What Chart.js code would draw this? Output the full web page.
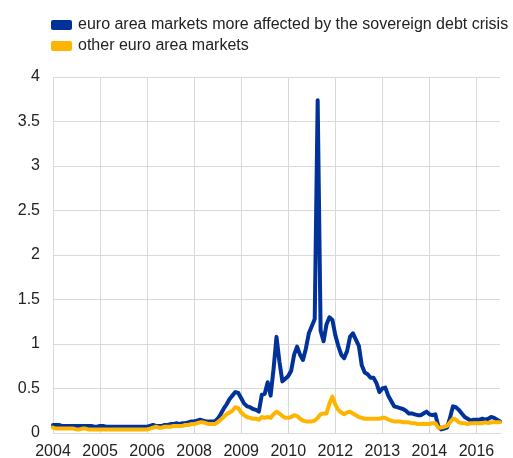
<!DOCTYPE html>
<html><head><meta charset="utf-8">
<script src="https://cdn.jsdelivr.net/npm/chart.js@4/dist/chart.umd.min.js"></script>
<style>html,body{margin:0;padding:0;background:#fff;}</style>
</head><body>
<canvas id="c" width="513" height="458"></canvas>
<script>
// Monthly observations, January 2004 onwards
const firstYear = 2004;
const nMonths = 153;
const categories = [];
for (let i = 0; i < nMonths; i++) {
  const y = firstYear + Math.floor(i / 12), m = (i % 12) + 1;
  categories.push(y + '-' + String(m).padStart(2, '0'));
}
const seriesNames = ['euro area markets more affected by the sovereign debt crisis', 'other euro area markets'];
const stressed = [
  0.09,0.09,0.09,0.08,0.08,0.08,0.08,0.08,0.08,0.08,0.08,0.08,0.08,0.08,0.07,0.07,
  0.08,0.08,0.07,0.07,0.07,0.07,0.07,0.07,0.07,0.07,0.07,0.07,0.07,0.07,0.07,0.07,
  0.07,0.08,0.09,0.08,0.08,0.08,0.09,0.09,0.10,0.10,0.11,0.10,0.11,0.11,0.12,0.13,
  0.13,0.14,0.15,0.14,0.13,0.13,0.13,0.13,0.16,0.21,0.27,0.32,0.38,0.42,0.46,0.45,
  0.39,0.33,0.30,0.29,0.27,0.26,0.24,0.43,0.44,0.57,0.42,0.72,1.08,0.80,0.58,0.61,
  0.64,0.70,0.88,0.97,0.88,0.82,0.95,1.12,1.20,1.28,3.74,1.15,1.03,1.22,1.30,1.27,
  1.10,0.98,0.88,0.84,0.92,1.08,1.12,1.05,0.98,0.76,0.68,0.66,0.62,0.62,0.56,0.46,
  0.50,0.51,0.42,0.36,0.30,0.29,0.28,0.27,0.25,0.22,0.22,0.21,0.20,0.20,0.22,0.24,
  0.21,0.20,0.21,0.08,0.04,0.05,0.06,0.17,0.30,0.29,0.26,0.22,0.18,0.16,0.14,0.15,
  0.15,0.15,0.16,0.15,0.16,0.18,0.17,0.15,0.13
];
const others = [
  0.06,0.05,0.05,0.05,0.05,0.05,0.05,0.05,0.04,0.04,0.05,0.05,0.04,0.04,0.04,0.04,
  0.04,0.04,0.04,0.04,0.04,0.04,0.04,0.04,0.04,0.04,0.04,0.04,0.04,0.04,0.04,0.04,
  0.04,0.05,0.06,0.07,0.06,0.06,0.07,0.07,0.07,0.08,0.08,0.08,0.08,0.09,0.09,0.10,
  0.10,0.11,0.12,0.12,0.11,0.10,0.10,0.10,0.12,0.15,0.18,0.21,0.23,0.25,0.29,0.28,
  0.23,0.20,0.18,0.17,0.16,0.16,0.15,0.18,0.17,0.18,0.17,0.21,0.24,0.22,0.19,0.17,
  0.17,0.18,0.20,0.19,0.16,0.14,0.13,0.13,0.13,0.14,0.17,0.21,0.22,0.22,0.33,0.41,
  0.32,0.26,0.23,0.21,0.23,0.24,0.22,0.20,0.18,0.17,0.16,0.16,0.16,0.16,0.16,0.16,
  0.17,0.17,0.15,0.14,0.13,0.13,0.13,0.12,0.12,0.12,0.11,0.11,0.10,0.10,0.10,0.10,
  0.10,0.11,0.11,0.06,0.06,0.07,0.08,0.12,0.16,0.15,0.12,0.11,0.11,0.10,0.11,0.11,
  0.11,0.11,0.11,0.12,0.11,0.12,0.12,0.12,0.12
];
const labelEvery = 16;
const yTicks = [0, 0.5, 1, 1.5, 2, 2.5, 3, 3.5, 4];

const FONT = '"Liberation Sans", Arial, Helvetica, sans-serif';
const TEXT = '#222222';
const GRID = '#d9d9d9';

// keep the legend block a fixed height and indent it to the plot's left edge
const legendPlacer = {
  id: 'legendPlacer',
  beforeLayout(chart) {
    const lg = chart.legend;
    if (lg && !lg._wrapped) {
      const orig = lg.fit;
      lg.fit = function () { orig.call(this); this.height = 65; };
      lg._wrapped = true;
    }
  },
  afterLayout(chart) {
    const lg = chart.legend;
    if (lg) { lg.left = 48; lg.right = chart.width; lg.width = lg.right - lg.left; }
  }
};

new Chart(document.getElementById('c'), {
  type: 'line',
  data: {
    labels: categories,
    datasets: [
      { label: seriesNames[0], data: stressed, borderColor: '#003299', backgroundColor: '#003299',
        borderWidth: 4, pointRadius: 0, tension: 0, borderJoinStyle: 'round', borderCapStyle: 'round', order: 1 },
      { label: seriesNames[1], data: others, borderColor: '#FFB400', backgroundColor: '#FFB400',
        borderWidth: 4, pointRadius: 0, tension: 0, borderJoinStyle: 'round', borderCapStyle: 'round', order: 0 }
    ]
  },
  plugins: [legendPlacer],
  options: {
    responsive: false,
    animation: false,
    layout: { padding: { left: 0, right: 13, top: 12, bottom: 0 } },
    plugins: {
      tooltip: { enabled: false },
      legend: {
        position: 'top', align: 'start',
        labels: {
          boxWidth: 17, boxHeight: 6, padding: 5, color: TEXT,
          font: { family: FONT, size: 16 },
          sort: (a, b) => a.datasetIndex - b.datasetIndex
        }
      }
    },
    scales: {
      x: {
        grid: { color: GRID, drawTicks: false, lineWidth: 1 },
        border: { color: GRID },
        ticks: {
          autoSkip: false, maxRotation: 0, padding: 9, color: TEXT,
          font: { family: FONT, size: 16 },
          callback: function (v, i) { return i % labelEvery === 0 ? categories[i].slice(0, 4) : null; }
        },
        afterFit: s => { s.height = 25; }
      },
      y: {
        min: 0, max: 4,
        afterBuildTicks: s => { s.ticks = yTicks.map(v => ({ value: v })); },
        grid: { color: GRID, drawTicks: false },
        border: { color: GRID },
        ticks: { padding: 13, color: TEXT, font: { family: FONT, size: 16 },
          callback: v => String(Math.round(v * 10) / 10) },
        afterFit: s => { s.width = 53; }
      }
    }
  }
});
</script>
</body></html>
